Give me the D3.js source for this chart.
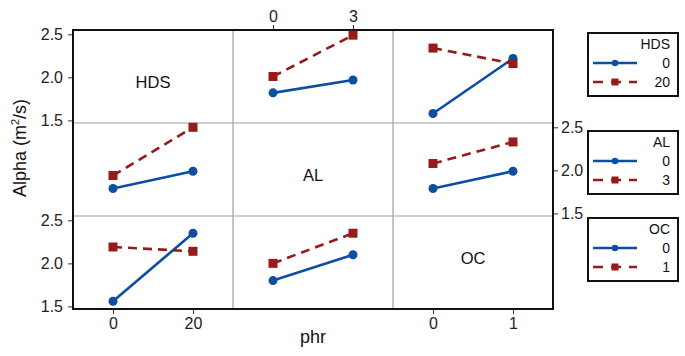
<!DOCTYPE html>
<html>
<head>
<meta charset="utf-8">
<script src="https://cdn.jsdelivr.net/npm/d3@7"></script>
<style>
  body { margin: 0; background: #fff; }
  svg { display: block; font-family: "Liberation Sans", Arial, sans-serif; }
</style>
</head>
<body>
<div class="charts-div"></div>
<script>
// factors and their levels
const factors = ["HDS", "AL", "OC"];
const hdsLevels = [0, 20];
const alLevels = [0, 3];
const ocLevels = [0, 1];
const yTicks = [1.5, 2.0, 2.5];

// mean alpha per panel: [trace level][x level]
const hdsByAl = [[1.82, 1.97], [2.01, 2.49]];
const hdsByOc = [[1.58, 2.22], [2.34, 2.16]];
const alByHds = [[1.79, 1.99], [1.94, 2.50]];
const alByOc = [[1.79, 1.99], [2.08, 2.33]];
const ocByHds = [[1.56, 2.35], [2.19, 2.14]];
const ocByAl = [[1.80, 2.10], [2.00, 2.35]];

const levels = [hdsLevels, alLevels, ocLevels];
const panels = [
    { row: 0, col: 1, values: hdsByAl },
    { row: 0, col: 2, values: hdsByOc },
    { row: 1, col: 0, values: alByHds },
    { row: 1, col: 2, values: alByOc },
    { row: 2, col: 0, values: ocByHds },
    { row: 2, col: 1, values: ocByAl }
];

const blue = "#0b4ea2", red = "#971b1b";
const margin = { left: 73, top: 30 };
const cellW = 160, cellH = 93;
// vertical nudge of the diagonal labels from their cell centres
const labelShift = [5.5, 5.5, -4.5];

const svg = d3.select(".charts-div").append("svg").attr("width", 685).attr("height", 356);

const xScales = levels.map((lv, j) => {
    const span = lv[1] - lv[0];
    const x0 = margin.left + j * cellW;
    return d3.scaleLinear().domain([lv[0] - span / 2, lv[1] + span / 2]).range([x0, x0 + cellW]);
});
const yScales = factors.map((_, i) => {
    const y0 = margin.top + i * cellH;
    return d3.scaleLinear().domain([1.47, 2.55]).range([y0 + cellH, y0]);
});

// inner dividers
const grid = svg.append("g").attr("stroke", "#a0a0a0").attr("stroke-width", 1.2);
[1, 2].forEach((k) => {
    grid.append("line").attr("x1", margin.left + k * cellW).attr("x2", margin.left + k * cellW)
        .attr("y1", margin.top).attr("y2", margin.top + 3 * cellH);
    grid.append("line").attr("y1", margin.top + k * cellH).attr("y2", margin.top + k * cellH)
        .attr("x1", margin.left).attr("x2", margin.left + 3 * cellW);
});

// outer frame
svg.append("rect")
    .attr("x", margin.left).attr("y", margin.top)
    .attr("width", 3 * cellW).attr("height", 3 * cellH)
    .attr("fill", "none").attr("stroke", "#111").attr("stroke-width", 2);

// diagonal labels
factors.forEach((f, i) => {
    svg.append("text")
        .attr("x", margin.left + i * cellW + 80)
        .attr("y", margin.top + i * cellH + cellH / 2 + labelShift[i])
        .attr("dy", "0.35em")
        .attr("text-anchor", "middle")
        .attr("font-size", 16.5)
        .attr("fill", "#111")
        .text(f);
});

// axes
function styleAxis(g) {
    g.select(".domain").remove();
    g.selectAll(".tick line").attr("stroke", "#333");
    g.selectAll(".tick text").attr("font-size", 16).attr("fill", "#222")
        .attr("font-family", "Liberation Sans, Arial, sans-serif");
}
const yFmt = d3.format(".1f");
const xFmt = d3.format("d");
[0, 2].forEach((i) => {
    svg.append("g").attr("transform", `translate(${margin.left - 1},0)`)
        .call(d3.axisLeft(yScales[i]).tickValues(yTicks).tickFormat(yFmt).tickSize(4).tickPadding(5))
        .call(styleAxis);
});
svg.append("g").attr("transform", `translate(${margin.left + 3 * cellW + 1},0)`)
    .call(d3.axisRight(yScales[1]).tickValues(yTicks).tickFormat(yFmt).tickSize(4).tickPadding(3))
    .call(styleAxis);
[0, 2].forEach((j) => {
    svg.append("g").attr("transform", `translate(0,${margin.top + 3 * cellH + 1})`)
        .call(d3.axisBottom(xScales[j]).tickValues(levels[j]).tickFormat(xFmt).tickSize(4).tickPadding(4))
        .call(styleAxis);
});
svg.append("g").attr("transform", `translate(0,${margin.top - 1})`)
    .call(d3.axisTop(xScales[1]).tickValues(levels[1]).tickFormat(xFmt).tickSize(4).tickPadding(3))
    .call(styleAxis);

// axis titles
svg.append("text")
    .attr("transform", "translate(26,148) rotate(-90)")
    .attr("text-anchor", "middle").attr("font-size", 18).attr("fill", "#111")
    .html('Alpha (m<tspan dy="-7" font-size="11">2</tspan><tspan dy="7">/s)</tspan>');
svg.append("text")
    .attr("x", margin.left + 1.5 * cellW).attr("y", 343)
    .attr("text-anchor", "middle").attr("font-size", 18).attr("fill", "#111")
    .text("phr");

// interaction lines
const line = d3.line();
panels.forEach((p) => {
    const x = xScales[p.col], y = yScales[p.row], lv = levels[p.col];
    const g = svg.append("g");
    p.values.forEach((vals, t) => {
        const pts = vals.map((v, k) => [x(lv[k]), y(v)]);
        g.append("path").attr("d", line(pts)).attr("fill", "none")
            .attr("stroke", t === 0 ? blue : red).attr("stroke-width", 2.6)
            .attr("stroke-dasharray", t === 0 ? null : "9,6");
        pts.forEach(([px, py]) => {
            if (t === 0) {
                g.append("circle").attr("cx", px).attr("cy", py).attr("r", 4.5).attr("fill", blue);
            } else {
                g.append("rect").attr("x", px - 4.5).attr("y", py - 4.5)
                    .attr("width", 9).attr("height", 9).attr("fill", red);
            }
        });
    });
});

// legends
const legendTops = [33, 131, 218];
factors.forEach((f, i) => {
    const lx = 588, ly = legendTops[i];
    const g = svg.append("g").attr("transform", `translate(${lx},${ly})`);
    g.append("rect").attr("width", 90).attr("height", 63)
        .attr("fill", "#fff").attr("stroke", "#111").attr("stroke-width", 2);
    g.append("text").attr("x", 82).attr("y", 16).attr("text-anchor", "end")
        .attr("font-size", 14).attr("fill", "#111").text(f);
    levels[i].forEach((lev, t) => {
        const yy = 30 + t * 19;
        g.append("line").attr("x1", 5).attr("x2", 49).attr("y1", yy).attr("y2", yy)
            .attr("stroke", t === 0 ? blue : red).attr("stroke-width", 2.6)
            .attr("stroke-dasharray", t === 0 ? null : "10,8");
        if (t === 0) {
            g.append("circle").attr("cx", 27).attr("cy", yy).attr("r", 3.2).attr("fill", blue);
        } else {
            g.append("rect").attr("x", 23.5).attr("y", yy - 3.5).attr("width", 7).attr("height", 7).attr("fill", red);
        }
        g.append("text").attr("x", 82).attr("y", yy + 5).attr("text-anchor", "end")
            .attr("font-size", 14).attr("fill", "#111").text(lev);
    });
});
</script>
</body>
</html>
